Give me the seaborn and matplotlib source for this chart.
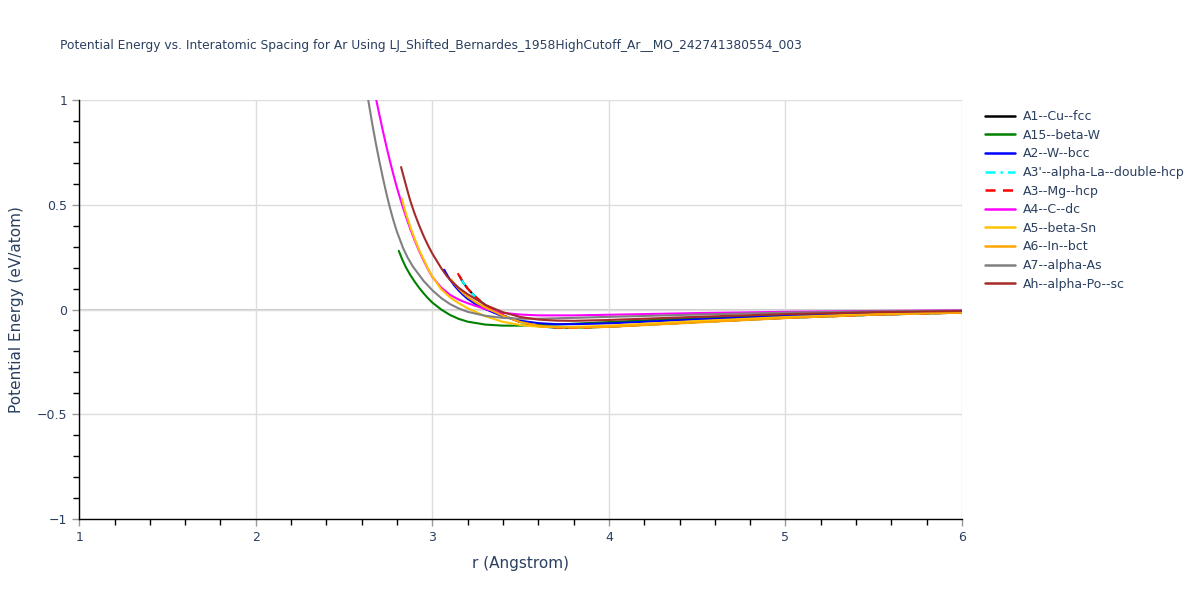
import numpy as np
import pandas as pd
import seaborn as sns
import matplotlib.pyplot as plt
from matplotlib.ticker import MultipleLocator
from matplotlib.lines import Line2D

# valores (r em Angstrom, energia em eV/atom)
r_fcc = [3.155, 3.175, 3.2, 3.225, 3.25, 3.275, 3.3, 3.35, 3.4, 3.5, 3.6, 3.7, 3.8, 4.0, 4.25, 4.5, 5.0, 5.5, 6.0]
e_fcc = [0.158, 0.128, 0.100, 0.077, 0.057, 0.038, 0.022, -0.005, -0.028, -0.060, -0.079, -0.087, -0.088, -0.082, -0.071, -0.060, -0.040, -0.025, -0.015]

r_a15 = [2.81, 2.83, 2.85, 2.875, 2.9, 2.925, 2.95, 2.975, 3.0, 3.05, 3.1, 3.15, 3.2, 3.3, 3.4, 3.5, 3.75, 4.0, 4.5, 5.0, 5.5, 6.0]
e_a15 = [0.280, 0.238, 0.202, 0.165, 0.133, 0.104, 0.078, 0.054, 0.033, 0.000, -0.026, -0.045, -0.058, -0.072, -0.077, -0.077, -0.070, -0.060, -0.040, -0.025, -0.014, -0.007]

r_bcc = [3.067, 3.085, 3.1, 3.125, 3.15, 3.175, 3.2, 3.25, 3.3, 3.4, 3.5, 3.6, 3.7, 3.8, 4.0, 4.5, 5.0, 5.5, 6.0]
e_bcc = [0.190, 0.163, 0.143, 0.114, 0.090, 0.069, 0.051, 0.023, 0.002, -0.033, -0.054, -0.065, -0.070, -0.070, -0.066, -0.047, -0.031, -0.019, -0.011]

r_dhcp = [3.16, 3.175, 3.2, 3.225, 3.25, 3.275, 3.3, 3.35, 3.4, 3.5, 3.6, 3.7, 3.8, 4.0, 4.25, 4.5, 5.0, 5.5, 6.0]
e_dhcp = [0.150, 0.128, 0.100, 0.077, 0.057, 0.038, 0.022, -0.005, -0.028, -0.061, -0.080, -0.087, -0.088, -0.082, -0.071, -0.060, -0.040, -0.025, -0.015]

r_hcp = [3.144, 3.16, 3.175, 3.2, 3.225, 3.25, 3.275, 3.3, 3.35, 3.4, 3.5, 3.6, 3.7, 3.8, 4.0, 4.25, 4.5, 5.0, 5.5, 6.0]
e_hcp = [0.173, 0.150, 0.128, 0.100, 0.077, 0.057, 0.038, 0.022, -0.005, -0.028, -0.061, -0.080, -0.087, -0.088, -0.082, -0.071, -0.060, -0.040, -0.025, -0.015]

r_dc = [2.66, 2.68, 2.7, 2.72, 2.74, 2.76, 2.78, 2.8, 2.825, 2.85, 2.875, 2.9, 2.925, 2.95, 2.975, 3.0, 3.05, 3.1, 3.15, 3.2, 3.3, 3.4, 3.5, 3.6, 3.8, 4.0, 4.5, 5.0, 5.5, 6.0]
e_dc = [1.100, 1.010, 0.930, 0.852, 0.778, 0.708, 0.642, 0.580, 0.510, 0.445, 0.385, 0.330, 0.280, 0.235, 0.193, 0.155, 0.105, 0.070, 0.047, 0.030, 0.002, -0.016, -0.024, -0.028, -0.028, -0.025, -0.017, -0.011, -0.007, -0.004]

r_betasn = [2.827, 2.85, 2.875, 2.9, 2.925, 2.95, 2.975, 3.0, 3.05, 3.1, 3.15, 3.2, 3.3, 3.4, 3.5, 3.6, 3.7, 3.8, 4.0, 4.5, 5.0, 5.5, 6.0]
e_betasn = [0.530, 0.460, 0.395, 0.337, 0.285, 0.240, 0.196, 0.157, 0.097, 0.058, 0.030, 0.006, -0.032, -0.059, -0.074, -0.082, -0.084, -0.083, -0.077, -0.055, -0.036, -0.022, -0.013]

r_bct = [3.105, 3.125, 3.15, 3.175, 3.2, 3.25, 3.3, 3.4, 3.5, 3.6, 3.7, 3.8, 4.0, 4.5, 5.0, 5.5, 6.0]
e_bct = [0.145, 0.123, 0.099, 0.078, 0.060, 0.032, 0.010, -0.030, -0.060, -0.077, -0.085, -0.087, -0.083, -0.062, -0.041, -0.025, -0.015]

r_as = [2.62, 2.637, 2.66, 2.68, 2.7, 2.72, 2.74, 2.76, 2.78, 2.8, 2.835, 2.86, 2.89, 2.95, 3.0, 3.05, 3.1, 3.15, 3.2, 3.3, 3.4, 3.5, 3.6, 3.8, 4.0, 4.5, 5.0, 5.5, 6.0]
e_as = [1.090, 1.000, 0.885, 0.793, 0.708, 0.628, 0.553, 0.485, 0.424, 0.370, 0.292, 0.248, 0.205, 0.137, 0.092, 0.055, 0.026, 0.005, -0.011, -0.030, -0.040, -0.044, -0.044, -0.040, -0.035, -0.024, -0.015, -0.009, -0.005]

r_sc = [2.823, 2.85, 2.874, 2.9, 2.925, 2.95, 2.975, 3.0, 3.05, 3.08, 3.1, 3.15, 3.2, 3.3, 3.4, 3.5, 3.6, 3.7, 3.8, 4.0, 4.5, 5.0, 5.5, 6.0]
e_sc = [0.680, 0.595, 0.522, 0.457, 0.402, 0.352, 0.307, 0.267, 0.198, 0.162, 0.142, 0.103, 0.073, 0.022, -0.013, -0.036, -0.048, -0.053, -0.054, -0.050, -0.035, -0.022, -0.013, -0.007]

names = ["A1--Cu--fcc", "A15--beta-W", "A2--W--bcc", "A3'--alpha-La--double-hcp",
         "A3--Mg--hcp", "A4--C--dc", "A5--beta-Sn", "A6--In--bct", "A7--alpha-As",
         "Ah--alpha-Po--sc"]
series = [(r_fcc, e_fcc), (r_a15, e_a15), (r_bcc, e_bcc), (r_dhcp, e_dhcp),
          (r_hcp, e_hcp), (r_dc, e_dc), (r_betasn, e_betasn), (r_bct, e_bct),
          (r_as, e_as), (r_sc, e_sc)]
colors = ["black", "green", "blue", "cyan", "red", "magenta", "#FFC300", "orange", "grey", "brown"]
styles = ["-", "-", "-", (0, (4, 2, 1, 2)), (0, (4, 3)), "-", "-", "-", "-", "-"]

df = pd.concat([pd.DataFrame({"r": r, "E": e, "structure": n})
                for (r, e), n in zip(series, names)], ignore_index=True)

sns.set_style("white")
plt.rcParams['font.family'] = ['DejaVu Sans']

fig = plt.figure(figsize=(12, 6), dpi=100)
ax = fig.add_axes([0.066, 0.135, 0.7357, 0.6983])

for n, c, ls in zip(names, colors, styles):
    sub = df[df["structure"] == n]
    sns.lineplot(data=sub, x="r", y="E", ax=ax, color=c, linestyle=ls,
                 linewidth=1.5, sort=False, estimator=None, legend=False)

ax.set_xlim(1, 6)
ax.set_ylim(-1, 1)
ax.xaxis.set_major_locator(MultipleLocator(1))
ax.xaxis.set_minor_locator(MultipleLocator(0.2))
ax.yaxis.set_minor_locator(MultipleLocator(0.1))
ax.set_yticks([-1, -0.5, 0, 0.5, 1])
ax.set_yticklabels(["\u22121", "\u22120.5", "0", "0.5", "1"])
ax.grid(True, which="major", color="#dddddd", linewidth=1)
ax.axhline(0, color="#cccccc", linewidth=1.5, zorder=0.5)
for s in ["top", "right"]:
    ax.spines[s].set_visible(False)
for s in ["left", "bottom"]:
    ax.spines[s].set_color("black")
    ax.spines[s].set_linewidth(1)
ax.tick_params(which="major", direction="out", length=5, color="#999999",
               labelsize=9, labelcolor="#2a3f5f", width=1)
ax.tick_params(which="minor", direction="out", length=4, color="black", width=1)
ax.tick_params(axis="both", which="both", bottom=True, left=True)

ax.set_xlabel("r (Angstrom)", fontsize=11, color="#2a3f5f", labelpad=9)
ax.set_ylabel("Potential Energy (eV/atom)", fontsize=11, color="#2a3f5f", labelpad=9)
fig.text(0.05, 0.925, "Potential Energy vs. Interatomic Spacing for Ar Using "
         "LJ_Shifted_Bernardes_1958HighCutoff_Ar__MO_242741380554_003",
         fontsize=8.85, color="#2a3f5f", ha="left", va="center")

handles = [Line2D([0], [0], color=c, linestyle=ls, linewidth=1.8)
           for c, ls in zip(colors, styles)]
leg = fig.legend(handles, names, loc="upper left", bbox_to_anchor=(0.817, 0.825),
                 frameon=False, fontsize=9, handlelength=2.4, labelspacing=0.45,
                 handletextpad=0.6, borderaxespad=0)
for t in leg.get_texts():
    t.set_color("#2a3f5f")

fig.savefig("out.png", dpi=100)
